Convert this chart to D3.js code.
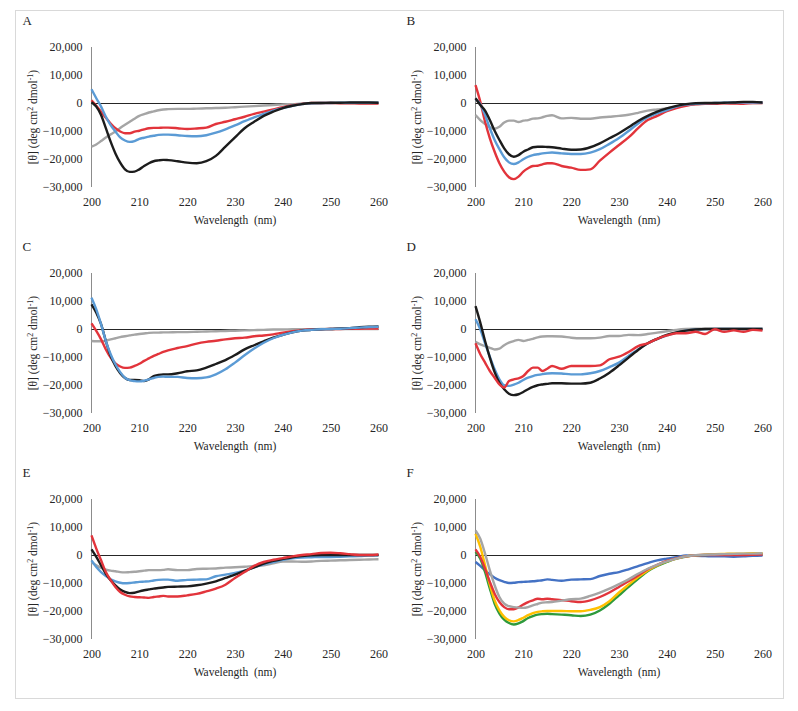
<!DOCTYPE html>
<html>
<head>
<meta charset="utf-8">
<script src="https://cdn.jsdelivr.net/npm/d3@7"></script>
<style>
  body { margin: 0; background: #fff; }
  text { font-family: "Liberation Serif", "Times New Roman", serif; fill: #262626; }
  .tick text { font-size: 12px; }
  .axisLb { font-size: 11.5px; }
  .panelLb { font-size: 13px; }
</style>
</head>
<body>
<div id="main"></div>
<script>
const ctx = {
    w: 798,
    h: 711,
    PLOT_W: 287,
    PLOT_H: 140,
    COL_X: [91.5, 475.5],
    ROW_Y: [47, 273, 499],
    STROKE_W: 2.4
};

// shared wavelength grid (nm)
const wavelengths = [200,201,202,203,204,205,206,207,208,209,210,211,212,213,214,215,216,
    218,220,222,224,226,228,230,232,234,236,238,240,242,244,246,248,250,252,254,256,258,260];
const xTicks = [200, 210, 220, 230, 240, 250, 260];
const yTicks = [20000, 10000, 0, -10000, -20000, -30000];
const panelLabels = ["A", "B", "C", "D", "E", "F"];

const colors = {
    red: "#e2343b", blue: "#5b9bd5", gray: "#a5a5a5", black: "#1c1c1c",
    navy: "#4472c4", yellow: "#ffc000", green: "#2e9a3c"
};

// panel A
const A_gray  = [-15600,-14800,-13600,-12300,-11200,-10200,-8900,-7800,-6700,-5600,-4600,-4000,-3400,-3000,-2600,-2300,-2200,
    -2100,-2100,-2000,-1900,-1800,-1700,-1500,-1300,-1100,-900,-700,-500,-400,-200,-100,0,0,0,0,0,0,0];
const A_red   = [1000,-1000,-3100,-5300,-7300,-9000,-10200,-10800,-10800,-10200,-9900,-9400,-9000,-8900,-8900,-8800,-8800,
    -9000,-9300,-9100,-8800,-7500,-6700,-5800,-4900,-3900,-3100,-2300,-1500,-800,-300,0,0,0,-100,-100,-200,-200,-200];
const A_blue  = [4900,1700,-1300,-4900,-7900,-10200,-12300,-13400,-13900,-13600,-12800,-12400,-12000,-11700,-11400,-11300,-11300,
    -11500,-11800,-11900,-11500,-10600,-9400,-8000,-6500,-5100,-3900,-2700,-1800,-1000,-400,-100,0,0,100,100,100,100,100];
const A_black = [300,-1300,-4300,-9000,-13800,-18000,-21300,-23700,-24600,-24500,-23700,-22500,-21500,-20800,-20500,-20300,-20400,
    -20800,-21300,-21500,-20800,-18900,-15600,-12300,-9000,-6700,-4600,-3100,-1800,-1000,-400,0,0,100,100,200,200,200,100];

// panel B
const B_gray  = [-4300,-6100,-7500,-8700,-9200,-8500,-7000,-6300,-6300,-6800,-6300,-6100,-5600,-5500,-5100,-4600,-4400,
    -5500,-5300,-5600,-5600,-5200,-4900,-4600,-4200,-3500,-2700,-2300,-1900,-1300,-800,-400,-200,0,0,0,0,0,0];
const B_red   = [6400,500,-6700,-12600,-17400,-21500,-24500,-26500,-27200,-26300,-24500,-23300,-22500,-22400,-21900,-21500,-21500,
    -22500,-23100,-23900,-23700,-20600,-17700,-15000,-12300,-9000,-6100,-4600,-2900,-1800,-1000,-500,-300,-300,-100,-200,-300,0,0];
const B_blue  = [1500,-400,-4300,-9000,-13200,-16500,-19400,-21200,-21800,-21200,-20100,-19200,-18600,-18300,-18000,-17800,-17700,
    -18000,-18200,-18200,-17700,-16500,-14600,-12500,-10000,-7300,-5100,-3700,-2500,-1300,-600,-300,-100,0,100,200,200,200,200];
const B_black = [1700,-700,-2700,-6100,-9900,-13200,-16200,-18300,-19200,-18600,-17400,-16600,-15800,-15600,-15600,-15700,-15800,
    -16300,-16700,-16600,-15800,-14400,-12600,-10800,-8700,-6400,-4600,-3100,-1900,-1000,-400,-100,0,0,100,200,400,400,200];

// panel C
const C_gray  = [-4300,-4400,-4400,-4200,-3700,-3300,-2900,-2600,-2300,-2000,-1800,-1600,-1400,-1300,-1300,-1200,-1200,
    -1100,-1100,-1000,-900,-800,-700,-600,-500,-400,-300,-200,-200,-100,-100,-100,0,0,0,0,0,0,0];
const C_red   = [2000,-700,-3700,-7300,-10200,-12300,-13400,-13900,-13800,-13200,-12400,-11400,-10500,-9600,-8900,-8200,-7600,
    -6800,-6100,-5200,-4600,-4200,-3700,-3300,-3100,-2600,-2300,-1900,-1300,-800,-400,-200,-100,0,0,100,100,200,200];
const C_blue  = [11200,7000,1700,-4300,-9000,-12600,-15400,-17400,-18300,-18600,-18700,-18500,-18000,-17500,-17100,-17000,-17100,
    -17100,-17500,-17600,-17300,-16200,-14400,-12000,-9400,-7000,-4900,-3300,-2100,-1200,-600,-300,-100,0,100,300,500,700,800];
const C_black = [8800,5800,1700,-4300,-9600,-13200,-15800,-17500,-18200,-18200,-18300,-18600,-18000,-16800,-16400,-16200,-16200,
    -15800,-15100,-14800,-13800,-12500,-11100,-9300,-7300,-5800,-4400,-3100,-2100,-1200,-600,-300,-100,0,200,300,600,800,900];

// panel D
const D_gray  = [-4600,-5500,-6100,-6700,-7300,-7000,-5800,-4900,-4300,-3900,-4300,-3900,-3500,-3000,-2700,-2600,-2600,
    -2700,-3100,-3300,-3300,-3100,-2500,-2500,-2100,-2200,-1800,-1300,-800,-300,0,100,100,100,100,100,100,100,100];
const D_red   = [-5100,-9000,-12000,-15000,-17400,-19800,-20900,-18600,-18000,-17600,-16800,-15000,-13800,-13800,-15000,-14200,-13200,
    -14200,-13200,-13200,-13200,-13000,-10800,-9900,-8200,-6100,-5100,-3500,-2300,-1500,-1500,-1000,-1800,-100,-1000,-500,-1000,-300,-600];
const D_blue  = [3500,-100,-5100,-9900,-14400,-18000,-20100,-20300,-19900,-19200,-18200,-17400,-16800,-16400,-16100,-15900,-15800,
    -15900,-16200,-16200,-15800,-15000,-13600,-12000,-9600,-7300,-5200,-3500,-2300,-1300,-600,-200,-100,0,0,0,0,0,0];
const D_black = [8200,2300,-4300,-10200,-15400,-19200,-21500,-23100,-23600,-23300,-22500,-21500,-20700,-20100,-19800,-19600,-19400,
    -19400,-19500,-19500,-19200,-17700,-15600,-13000,-10200,-7500,-5100,-3500,-2100,-1200,-600,-200,0,0,0,0,0,0,0];

// panel E
const E_gray  = [-2500,-3700,-4600,-5200,-5600,-5800,-6100,-6200,-6100,-6000,-5800,-5600,-5400,-5400,-5400,-5300,-5100,
    -5400,-5400,-5000,-4900,-4800,-4500,-4400,-4200,-3900,-3700,-3000,-2300,-2300,-2400,-2300,-2100,-2000,-1900,-1800,-1700,-1600,-1500];
const E_red   = [7000,2300,-1900,-6100,-9000,-11400,-13200,-14200,-14800,-15000,-15100,-15200,-15300,-15000,-14800,-14600,-14800,
    -14800,-14400,-13900,-13000,-12000,-10600,-8200,-6100,-3900,-2500,-1700,-1100,-500,0,300,700,800,600,300,0,0,200];
const E_blue  = [-1900,-4300,-6100,-7500,-8700,-9400,-9900,-10100,-10000,-9800,-9600,-9500,-9400,-9100,-8900,-8800,-8800,
    -9200,-8900,-8800,-8700,-7600,-7000,-6400,-5600,-4400,-3300,-2500,-1700,-1200,-900,-800,-700,-700,-600,-500,-400,-200,-100];
const E_black = [2000,-700,-3700,-6700,-9000,-10800,-12300,-13200,-13600,-13500,-13000,-12600,-12300,-12000,-11800,-11600,-11400,
    -11300,-11200,-10800,-10200,-9400,-8200,-7000,-5700,-4400,-3100,-2100,-1400,-800,-400,-100,0,0,0,0,0,0,0];

// panel F
const F_navy   = [-2500,-3900,-5500,-6900,-8100,-9000,-9600,-10000,-9900,-9700,-9600,-9500,-9400,-9200,-9000,-8700,-8900,
    -9200,-8800,-8700,-8600,-7500,-6700,-6100,-5100,-4000,-2900,-1900,-1300,-800,-200,-300,-400,-500,-500,-600,-500,-300,-200];
const F_red    = [2000,-700,-4900,-9600,-13800,-16800,-18600,-19400,-19400,-18700,-17700,-16800,-16200,-15600,-15800,-15600,-15800,
    -16100,-16500,-16800,-16200,-15000,-13400,-11400,-9400,-7300,-5100,-3500,-2100,-1200,-500,-100,0,0,0,0,0,100,200];
const F_gray   = [8800,5800,500,-5500,-10800,-15000,-17400,-18300,-18600,-18800,-18900,-18600,-18000,-17500,-17000,-16900,-16800,
    -16300,-15800,-15600,-14600,-13400,-12000,-10400,-8700,-6700,-4900,-3500,-2300,-1300,-500,-100,100,200,300,400,500,500,600];
const F_green  = [1100,-1300,-6100,-12000,-17400,-20900,-23100,-24300,-24800,-24400,-23600,-22500,-21800,-21300,-21100,-21000,-21100,
    -21300,-21500,-21800,-21300,-19800,-17400,-14400,-11400,-8500,-5800,-3900,-2500,-1300,-600,-100,0,200,200,300,300,400,400];
const F_yellow = [7600,2900,-3700,-10600,-16200,-19800,-22100,-23300,-23700,-23200,-22400,-21500,-20800,-20300,-20100,-20000,-20000,
    -20000,-20100,-20100,-19600,-18600,-16500,-13400,-10600,-7900,-5500,-3700,-2300,-1300,-500,-100,100,300,400,500,500,600,600];

const panels = [
    [{v: A_gray, c: "gray"}, {v: A_red, c: "red"}, {v: A_blue, c: "blue"}, {v: A_black, c: "black"}],
    [{v: B_gray, c: "gray"}, {v: B_red, c: "red"}, {v: B_blue, c: "blue"}, {v: B_black, c: "black"}],
    [{v: C_gray, c: "gray"}, {v: C_red, c: "red"}, {v: C_black, c: "black"}, {v: C_blue, c: "blue"}],
    [{v: D_gray, c: "gray"}, {v: D_blue, c: "blue"}, {v: D_black, c: "black"}, {v: D_red, c: "red"}],
    [{v: E_gray, c: "gray"}, {v: E_blue, c: "blue"}, {v: E_black, c: "black"}, {v: E_red, c: "red"}],
    [{v: F_navy, c: "navy"}, {v: F_green, c: "green"}, {v: F_yellow, c: "yellow"}, {v: F_red, c: "red"}, {v: F_gray, c: "gray"}]
];

function drawPanel(rootG, idx){
    let ox = ctx.COL_X[idx % 2],
        oy = ctx.ROW_Y[Math.floor(idx / 2)];
    let xScale = d3.scaleLinear().domain([200, 260]).range([0, ctx.PLOT_W]);
    let yScale = d3.scaleLinear().domain([-30000, 20000]).range([ctx.PLOT_H, 0]);
    let g = rootG.append("g")
        .attr("id", "panel" + panelLabels[idx])
        .attr("transform", `translate(${ox},${oy})`);

    // panel letter
    g.append("text")
        .classed("panelLb", true)
        .attr("x", -69)
        .attr("y", -22)
        .text(panelLabels[idx]);

    // y axis: labels only + plain line
    g.append("g")
        .call(d3.axisLeft(yScale).tickValues(yTicks).tickSize(0).tickPadding(9)
              .tickFormat(d3.format(",")))
        .call((a) => a.select(".domain").remove());
    g.append("line")
        .attr("x1", 0).attr("x2", 0)
        .attr("y1", 0).attr("y2", ctx.PLOT_H)
        .attr("stroke", "#8c8c8c").attr("stroke-width", 1);

    // x axis: labels only, placed under the plot
    g.append("g")
        .attr("transform", `translate(0,${ctx.PLOT_H})`)
        .call(d3.axisBottom(xScale).tickValues(xTicks).tickSize(0).tickPadding(10))
        .call((a) => a.select(".domain").remove());

    // zero line (half pixel offset keeps it crisp)
    g.append("line")
        .attr("x1", 0).attr("x2", ctx.PLOT_W)
        .attr("y1", yScale(0) + 0.5).attr("y2", yScale(0) + 0.5)
        .attr("stroke", "#262626").attr("stroke-width", 1);

    // axis titles
    g.append("text")
        .classed("axisLb", true)
        .attr("x", ctx.PLOT_W / 2)
        .attr("y", ctx.PLOT_H + 37)
        .style("text-anchor", "middle")
        .attr("xml:space", "preserve")
        .text("Wavelength  (nm)");

    let yt = g.append("text")
        .classed("axisLb", true)
        .attr("transform", `translate(-55,${ctx.PLOT_H / 2}) rotate(-90)`)
        .style("text-anchor", "middle");
    yt.append("tspan").text("[θ] (deg cm");
    yt.append("tspan").attr("dy", -4).style("font-size", "8px").text("2");
    yt.append("tspan").attr("dy", 4).text(" dmol");
    yt.append("tspan").attr("dy", -4).style("font-size", "8px").text("-1");
    yt.append("tspan").attr("dy", 4).text(")");

    // spectra
    let line = d3.line()
        .x((d, i) => xScale(wavelengths[i]))
        .y((d) => yScale(d))
        .curve(d3.curveMonotoneX);
    g.selectAll("path.spec")
        .data(panels[idx])
        .enter()
        .append("path")
        .classed("spec", true)
        .attr("d", (d) => line(d.v))
        .attr("fill", "none")
        .attr("stroke", (d) => colors[d.c])
        .attr("stroke-width", ctx.STROKE_W)
        .attr("stroke-linejoin", "round");
}

function createViz(){
    let svgEl = d3.select("#main").append("svg")
        .attr("width", ctx.w)
        .attr("height", ctx.h);
    let rootG = svgEl.append("g").attr("id", "rootG");
    // outer frame
    rootG.append("rect")
        .attr("x", 15.5).attr("y", 10.5)
        .attr("width", 768).attr("height", 688)
        .attr("fill", "none")
        .attr("stroke", "#d9d9d9");
    panelLabels.forEach((lb, i) => drawPanel(rootG, i));
}

createViz();
</script>
</body>
</html>
